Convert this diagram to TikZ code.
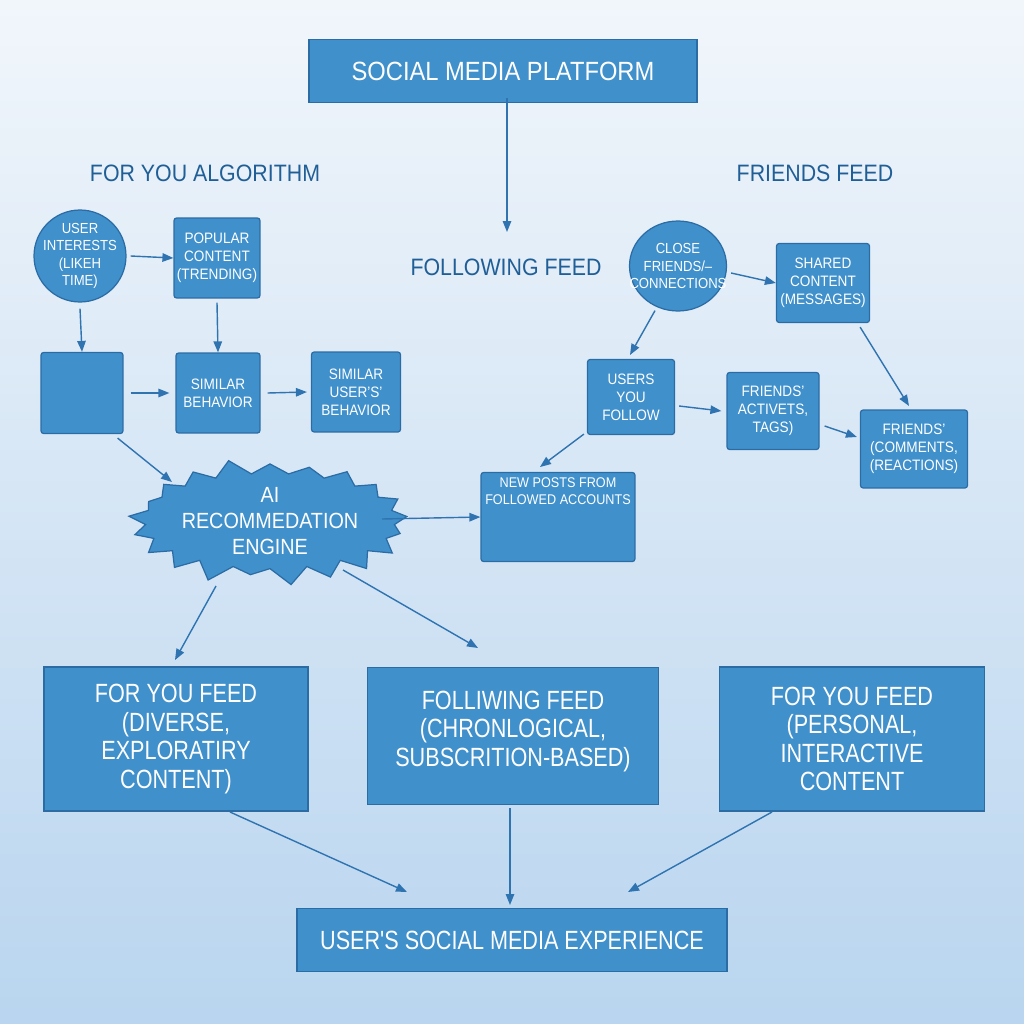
\documentclass[tikz,border=0pt]{standalone}
\usepackage{fontspec}
\setmainfont[FakeStretch=0.9]{Liberation Sans}
\newfontfamily\narrowfont[FakeStretch=0.82]{Liberation Sans}
\usepackage{tikz}
\usepackage{xcolor}
\usetikzlibrary{positioning,arrows.meta,shapes,calc}
\definecolor{boxblue}{HTML}{4090CC}
\definecolor{edgeblue}{HTML}{2B6CA5}
\definecolor{arrowblue}{HTML}{2F74B1}
\definecolor{headblue}{HTML}{1F5E96}
\definecolor{bgtop}{HTML}{F1F6FB}
\definecolor{bgbottom}{HTML}{B9D5EF}
\tikzset{
  box/.style={draw=edgeblue, fill=boxblue, line width=0.7pt, rounded corners=1.5pt,
    text=white, align=center, inner sep=0pt, font=\fontsize{8.6}{10.2}\selectfont},
  bigbox/.style={box, rounded corners=0pt, font=\narrowfont\fontsize{15}{16.2}\selectfont},
  circ/.style={box, ellipse},
  circtext/.style={text=white, align=center, font=\fontsize{8.3}{9.8}\selectfont},
  heading/.style={text=headblue, font=\fontsize{13.5}{15}\selectfont},
  arr/.style={-{Triangle[length=0.22cm,width=0.17cm]}, draw=arrowblue, line width=0.8pt},
}

\begin{document}
\begin{tikzpicture}[x=0.02cm, y=-0.02cm]
    % Background
    \shade[top color=bgtop, bottom color=bgbottom] (0,0) rectangle (1024,1024);
    \useasboundingbox (0,0) rectangle (1024,1024);

    % Top of the chart
    \node[box, minimum width=7.76cm, minimum height=1.26cm, rounded corners=0pt,
      font=\fontsize{15}{17}\selectfont] (platform) at (503,71) {SOCIAL MEDIA PLATFORM};
    \coordinate (followtop) at (507,232);
    \draw[arr] (platform.south -| followtop) ++(0,-5) -- (followtop);

    % Headings
    \node[heading] (algo) at (205,173) {FOR YOU ALGORITHM};
    \node[heading] (friendsfeed) at (815,173) {FRIENDS FEED};
    \node[heading] (followfeed) at (506,267) {FOLLOWING FEED};

    % For you algorithm
    \node[circ, minimum width=1.84cm, minimum height=1.84cm,
      label={[circtext]center:USER\\INTERESTS\\(LIKEH\\TIME)}] (interests) at (80,256) {};
    \node[box, minimum width=1.72cm, minimum height=1.6cm] (popular) at (217,258)
      {POPULAR\\CONTENT\\(TRENDING)};
    \node[box, minimum width=1.64cm, minimum height=1.62cm] (blank) at (82,393) {};
    \node[box, minimum width=1.68cm, minimum height=1.6cm] (similar) at (218,393)
      {SIMILAR\\BEHAVIOR};
    \node[box, minimum width=1.78cm, minimum height=1.6cm] (simusers) at (356,392)
      {SIMILAR\\USER'S'\\BEHAVIOR};
    \draw[arr] (interests.east) ++(4,0) -- (popular.west);
    \draw[arr] (interests.south) ++(0,6) -- (blank.north);
    \draw[arr] (popular.south) ++(0,4) -- (similar.north);
    \draw[arr] (blank.east) ++(7,0) -- ($(similar.west)+(-6,0)$);
    \draw[arr] (similar.east) ++(7,0) -- ($(simusers.west)+(-4,0)$);

    % AI engine
    \node[box, starburst, starburst points=21, starburst point height=0.36cm,
      random starburst=35, rounded corners=0pt, minimum width=4.75cm, minimum height=2.5cm,
      font=\fontsize{12.5}{14.8}\selectfont] (engine) at (270,521)
      {AI\\RECOMMEDATION\\ENGINE};
    \draw[arr] (blank.south east) ++(-6,4) -- (172,482);

    % Following feed
    \node[box, minimum width=3.08cm, minimum height=1.78cm,
      label={[text=white, align=center, font=\fontsize{8}{9.6}\selectfont,
        anchor=north]north:NEW POSTS FROM\\FOLLOWED ACCOUNTS}] (newposts) at (558,517) {};
    \draw[arr] (382,519) -- (newposts.west);

    % Friends feed
    \node[circ, minimum width=1.94cm, minimum height=1.8cm,
      label={[circtext]center:CLOSE\\FRIENDS/--\\CONNECTIONS}] (close) at (678,266) {};
    \node[box, minimum width=1.86cm, minimum height=1.58cm] (shared) at (823,283)
      {SHARED\\CONTENT\\(MESSAGES)};
    \node[box, minimum width=1.74cm, minimum height=1.5cm] (users) at (631,397)
      {USERS\\YOU\\FOLLOW};
    \node[box, minimum width=1.84cm, minimum height=1.54cm] (activets) at (773,411)
      {FRIENDS'\\ACTIVETS,\\TAGS)};
    \node[box, minimum width=2.14cm, minimum height=1.56cm] (comments) at (914,449)
      {FRIENDS'\\(COMMENTS,\\(REACTIONS)};
    \draw[arr] (close.east) ++(4,7) -- (shared.west);
    \draw[arr] (close.south) ++(-23,-1) -- (630,355);
    \draw[arr] (users.east) ++(4,9) -- ($(activets.west)+(-5,0)$);
    \draw[arr] (activets.east) ++(5,15) -- ($(comments.west)+(-3,-12)$);
    \draw[arr] (shared.south east) ++(-10,4) -- (909,406);
    \draw[arr] (users.south west) ++(-3,-1) -- (540,467);

    % Feeds
    \node[bigbox, minimum width=5.28cm, minimum height=2.88cm] (foryou) at (176,739)
      {FOR YOU FEED\\(DIVERSE,\\EXPLORATIRY\\CONTENT)};
    \node[bigbox, minimum width=5.82cm, minimum height=2.74cm, text depth=0.3cm] (following) at (513,736)
      {FOLLIWING FEED\\(CHRONLOGICAL,\\SUBSCRITION-BASED)};
    \node[bigbox, minimum width=5.3cm, minimum height=2.88cm] (personal) at (852,739)
      {FOR YOU FEED\\(PERSONAL,\\INTERACTIVE\\CONTENT};
    \draw[arr] (216,586) -- (175,660);
    \draw[arr] (343,570) -- (478,648);

    % Bottom of the chart
    \node[box, rounded corners=0pt, minimum width=8.6cm, minimum height=1.26cm,
      font=\narrowfont\fontsize{15}{17}\selectfont] (experience) at (512,940)
      {USER'S SOCIAL MEDIA EXPERIENCE};
    \draw[arr] (230,812) -- (407,892);
    \draw[arr] (following.south) ++(-3,3) -- (510,905);
    \draw[arr] (772,812) -- (628,892);
\end{tikzpicture}
\end{document}
